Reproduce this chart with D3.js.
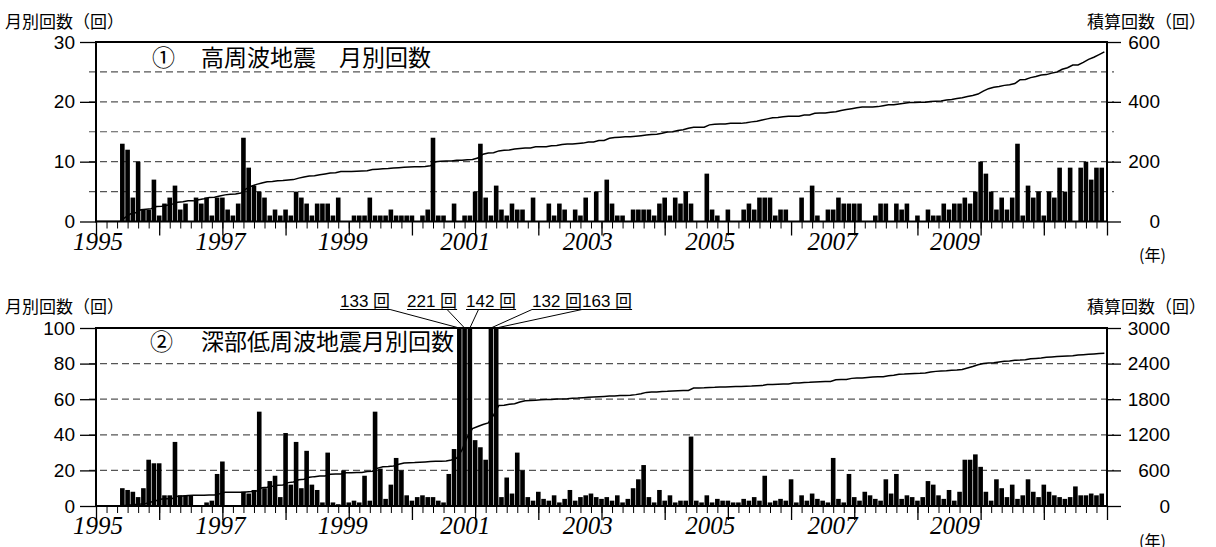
<!DOCTYPE html>
<html><head><meta charset="utf-8">
<script src="https://cdn.jsdelivr.net/npm/d3@7"></script>
<style>
body{margin:0;background:#fff;}
svg{display:block;}
</style></head><body>
<svg id="chart" width="1216" height="547"></svg>
<script>
// Monthly counts, January 1995 (index 0) through December 2010 (index 191)
const highFreqMonthly = [
  0,0,0,0,0,13,12,4,10,2,2,7,      // 1995
  1,3,4,6,2,3,0,4,3,4,1,4,         // 1996
  4,2,1,3,14,9,6,5,4,1,2,1,        // 1997
  2,1,5,4,3,1,3,3,3,1,4,0,         // 1998
  0,1,1,1,4,1,1,1,2,1,1,1,         // 1999
  1,0,1,2,14,1,1,0,3,0,1,1,        // 2000
  5,13,4,1,6,2,1,3,2,2,0,4,        // 2001
  0,0,3,1,3,2,0,2,1,4,0,5,         // 2002
  0,7,3,1,1,0,2,2,2,2,1,3,         // 2003
  4,1,4,3,5,3,0,0,8,2,1,0,         // 2004
  2,0,0,2,3,2,4,4,4,1,2,2,         // 2005
  0,0,4,0,6,1,0,2,2,4,3,3,         // 2006
  3,3,0,0,1,3,3,0,3,2,3,0,         // 2007
  1,0,2,1,1,3,2,3,3,4,3,5,         // 2008
  10,8,5,2,4,2,4,13,1,6,4,5,       // 2009
  1,5,4,9,5,9,0,9,10,7,9,9         // 2010
];
const deepLowFreqMonthly = [
  0,0,0,0,0,10,9,8,5,10,26,24,             // 1995
  24,6,6,36,6,6,6,0,0,2,3,18,              // 1996
  25,0,0,0,8,7,9,53,10,14,17,5,            // 1997
  41,12,36,10,31,12,9,2,30,2,1,20,         // 1998
  2,3,2,17,3,53,21,4,12,27,20,6,           // 1999
  3,5,6,5,5,3,2,18,32,133,221,142,         // 2000
  37,33,26,132,163,5,16,7,30,20,5,3,       // 2001
  8,4,3,6,2,4,9,3,5,6,7,5,                 // 2002
  4,5,3,6,2,4,10,15,23,5,2,9,              // 2003
  3,6,2,3,3,39,3,2,6,2,4,3,                // 2004
  3,2,2,4,3,5,3,17,2,3,4,3,                // 2005
  15,2,6,3,7,4,3,2,27,4,2,18,              // 2006
  5,3,8,6,4,3,15,7,18,4,6,5,               // 2007
  3,5,14,12,6,4,9,3,8,26,26,29,            // 2008
  22,8,3,15,10,5,12,4,6,15,8,5,            // 2009
  12,8,6,5,4,5,11,6,6,7,6,7                // 2010
];
const yearLabels = [1995, 1997, 1999, 2001, 2003, 2005, 2007, 2009];
const topLeftTicks = [0, 10, 20, 30];
const topRightTicks = [0, 200, 400, 600];
const topGrid = [5, 10, 15, 20, 25];
const bottomLeftTicks = [0, 20, 40, 60, 80, 100];
const bottomRightTicks = [0, 600, 1200, 1800, 2400, 3000];
const bottomGrid = [20, 40, 60, 80];
// months whose bars run past the top of the lower panel
const offScaleMonths = [69, 70, 71, 75, 76];

const monthCount = 192;
const plotLeft = 96, plotRight = 1107;
const x = d3.scaleLinear().domain([0, monthCount]).range([plotLeft, plotRight]);
// the year captions sit on their own row, set a little tighter than the ticks
const yearLabelX = d3.scaleLinear().domain([1995, 2009]).range([98, 955]);

const numFont = "'Liberation Sans', Arial, sans-serif";
const cjkFont = "'Noto Sans CJK JP', 'Noto Sans', sans-serif";
const yearFont = "'Liberation Serif', 'Times New Roman', serif";

const svg = d3.select("#chart");

const panels = [
  {
    data: highFreqMonthly, top: 42, bottom: 221.5, max: 30, cumMax: 600,
    leftTicks: topLeftTicks, rightTicks: topRightTicks, grid: topGrid,
    mark: "①", title: "高周波地震　月別回数", markX: 152, titleX: 201, titleY: 65.5,
    axisTitleY: 28, rightLabelX: 1160, yearY: 250, nenY: 261
  },
  {
    data: deepLowFreqMonthly, top: 328, bottom: 506, max: 100, cumMax: 3000,
    leftTicks: bottomLeftTicks, rightTicks: bottomRightTicks, grid: bottomGrid,
    mark: "②", title: "深部低周波地震月別回数", markX: 150, titleX: 201, titleY: 350,
    axisTitleY: 313, rightLabelX: 1170, yearY: 534, nenY: 547
  }
];

panels.forEach((p, pi) => {
  const y = d3.scaleLinear().domain([0, p.max]).range([p.bottom, p.top]);
  const yc = d3.scaleLinear().domain([0, p.cumMax]).range([p.bottom, p.top]);
  const g = svg.append("g");
  const clipId = "plotclip" + pi;
  g.append("clipPath").attr("id", clipId).append("rect")
    .attr("x", plotLeft).attr("y", p.top)
    .attr("width", plotRight - plotLeft).attr("height", p.bottom - p.top);

  // dashed grid, reaching slightly past both frame edges
  g.append("g").selectAll("line").data(p.grid).join("line")
    .attr("x1", plotLeft - 7).attr("x2", plotRight + 7)
    .attr("y1", d => y(d)).attr("y2", d => y(d))
    .attr("stroke", "#555").attr("stroke-width", 1.2)
    .attr("stroke-dasharray", "7,4");

  // monthly bars
  const barW = 4.6;
  g.append("g").attr("clip-path", `url(#${clipId})`)
    .selectAll("rect").data(p.data.map((v, i) => ({ i, v })).filter(d => d.v > 0)).join("rect")
    .attr("x", d => x(d.i) - barW / 2).attr("width", barW)
    .attr("y", d => y(Math.min(d.v, p.max * 1.05)))
    .attr("height", d => p.bottom - y(Math.min(d.v, p.max * 1.05)))
    .attr("fill", "#000");

  // cumulative total
  let run = 0;
  const cum = [{ k: -0.5, c: 0 }].concat(p.data.map((v, i) => ({ k: i + 0.5, c: (run += v) })));
  g.append("path").attr("clip-path", `url(#${clipId})`)
    .datum(cum)
    .attr("d", d3.line().x(d => x(d.k)).y(d => yc(d.c)))
    .attr("fill", "none").attr("stroke", "#000").attr("stroke-width", 1.5);

  // frame
  g.append("rect").attr("x", plotLeft).attr("y", p.top)
    .attr("width", plotRight - plotLeft).attr("height", p.bottom - p.top)
    .attr("fill", "none").attr("stroke", "#000").attr("stroke-width", 2);

  // left axis
  const la = g.append("g").attr("transform", `translate(${plotLeft},0)`)
    .call(d3.axisLeft(y).tickValues(p.leftTicks).tickSize(16).tickPadding(5).tickFormat(d3.format("d")));
  la.select(".domain").remove();
  la.selectAll("line").attr("stroke-width", 1.3);
  la.selectAll("text").attr("font-family", numFont).attr("font-size", 19).attr("fill", "#000");

  // right axis
  const ra = g.append("g").attr("transform", `translate(${plotRight},0)`)
    .call(d3.axisRight(yc).tickValues(p.rightTicks).tickSize(14).tickFormat(d3.format("d")));
  ra.select(".domain").remove();
  ra.selectAll("line").attr("stroke-width", 1.3);
  ra.selectAll("text").attr("font-family", numFont).attr("font-size", 19).attr("fill", "#000")
    .attr("text-anchor", "end").attr("x", p.rightLabelX - plotRight);

  // time axis: bimonthly minor ticks, yearly major ticks
  const minor = g.append("g").attr("transform", `translate(0,${p.bottom})`)
    .call(d3.axisBottom(x).tickValues(d3.range(0, monthCount + 1, 2)).tickSize(7).tickFormat(""));
  minor.select(".domain").remove();
  const major = g.append("g").attr("transform", `translate(0,${p.bottom})`)
    .call(d3.axisBottom(x).tickValues(d3.range(0, monthCount + 1, 12)).tickSize(14).tickFormat(""));
  major.select(".domain").remove();
  major.selectAll("line").attr("stroke-width", 1.3);

  g.append("g").selectAll("text").data(yearLabels).join("text")
    .attr("x", d => yearLabelX(d)).attr("y", p.yearY)
    .attr("text-anchor", "middle")
    .attr("font-family", yearFont).attr("font-style", "italic").attr("font-size", 25)
    .text(d => d);

  // titles
  g.append("text").attr("x", p.markX).attr("y", p.titleY).attr("font-family", cjkFont)
    .attr("font-size", 23).text(p.mark);
  g.append("text").attr("x", p.titleX).attr("y", p.titleY).attr("font-family", cjkFont)
    .attr("font-size", 23).text(p.title);
  g.append("text").attr("x", 5).attr("y", p.axisTitleY).attr("font-family", cjkFont)
    .attr("font-size", 17).text("月別回数（回）");
  g.append("text").attr("x", 1206).attr("y", p.axisTitleY).attr("text-anchor", "end")
    .attr("font-family", cjkFont).attr("font-size", 17).text("積算回数（回）");
  g.append("text").attr("x", 1139).attr("y", p.nenY).attr("font-family", cjkFont)
    .attr("font-size", 16).text("(年)");

  if (pi === 1) {
    // callouts for the off-scale months
    const labelX = [340, 407, 466, 532, 582];
    const leaderFrom = [1.0, 0.8, 0.25, 0.0, 0.0];
    const labelY = 306.5, lineY = 309.5;
    offScaleMonths.forEach((m, j) => {
      const t = g.append("text").attr("x", labelX[j]).attr("y", labelY)
        .attr("font-family", numFont).attr("font-size", 17);
      t.append("tspan").text(p.data[m] + " ");
      t.append("tspan").attr("font-family", cjkFont).text("回");
      const w = t.node().getComputedTextLength();
      g.append("line").attr("x1", labelX[j]).attr("x2", labelX[j] + w)
        .attr("y1", lineY).attr("y2", lineY).attr("stroke", "#000").attr("stroke-width", 1.2);
      g.append("line").attr("x1", labelX[j] + w * leaderFrom[j]).attr("y1", lineY)
        .attr("x2", x(m)).attr("y2", p.top).attr("stroke", "#000").attr("stroke-width", 1);
    });
  }
});
</script>
</body></html>
